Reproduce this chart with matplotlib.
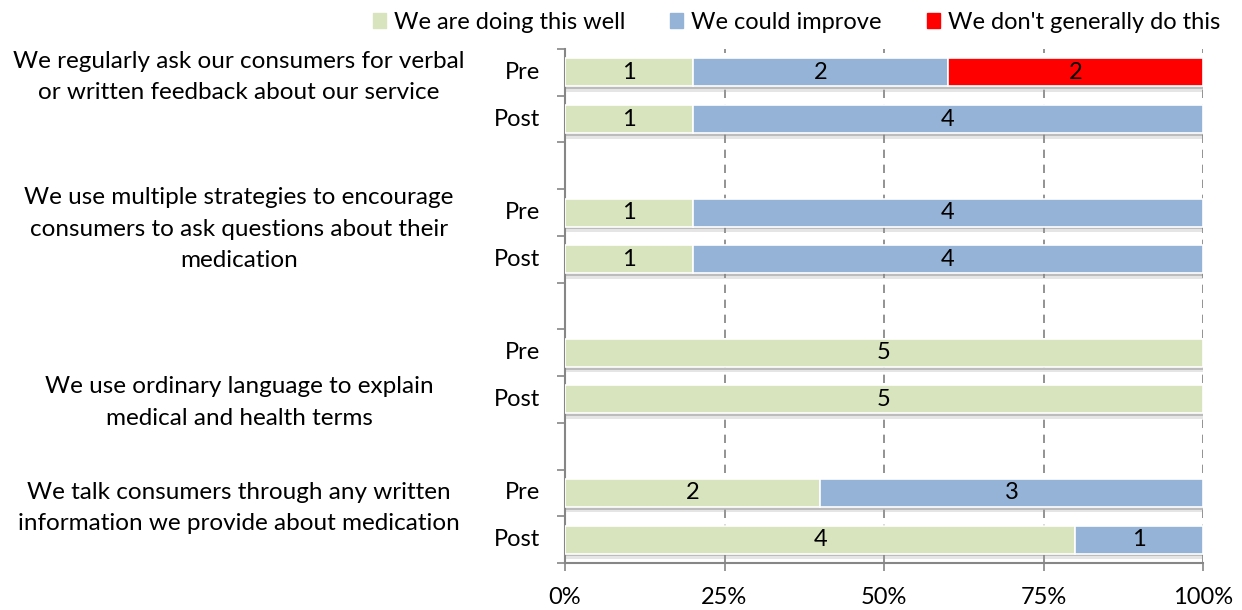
import matplotlib

matplotlib.use("Agg")
import matplotlib.pyplot as plt
import matplotlib.patheffects as pe
import numpy as np

plt.rcParams["font.family"] = ["Lato", "DejaVu Sans"]

statements = [
    "We regularly ask our consumers for verbal\nor written feedback about our service",
    "We use multiple strategies to encourage\nconsumers to ask questions about their\nmedication",
    "We use ordinary language to explain\nmedical and health terms",
    "We talk consumers through any written\ninformation we provide about medication",
]
phases = ["Pre", "Post"]
series = ["We are doing this well", "We could improve", "We don't generally do this"]
colors = ["#D7E4BD", "#95B3D7", "#FF0000"]

# counts per statement, rows = Pre, Post
doing_well = [[1, 1], [1, 1], [5, 5], [2, 4]]
could_improve = [[2, 4], [4, 4], [0, 0], [3, 1]]
dont_do = [[2, 0], [0, 0], [0, 0], [0, 0]]

counts = np.array([doing_well, could_improve, dont_do], dtype=float)  # series x stmt x phase
totals = counts.sum(axis=0)

# vertical nudge of each statement label, in rows below its "Pre" bar
label_shift = [0.1, 0.36, 1.06, 0.32]

FS = 17

fig = plt.figure(figsize=(12.42, 6.10), dpi=100)
ax = fig.add_axes([565 / 1242, 1 - 563 / 610, (1203 - 565) / 1242, (563 - 49) / 610])

n_rows = 3 * len(statements) - 1
bar_h = 0.6
shadow = [
    pe.SimplePatchShadow(offset=(1, -4), shadow_rgbFace="#9a9a9a", alpha=0.25),
    pe.SimplePatchShadow(offset=(1, -2), shadow_rgbFace="#7f7f7f", alpha=0.4),
    pe.Normal(),
]

for si, stmt in enumerate(statements):
    for pi, phase in enumerate(phases):
        y = n_rows - 1 - (3 * si + pi)
        left = 0.0
        for k in range(len(series)):
            val = counts[k, si, pi]
            if val == 0:
                continue
            width = val / totals[si, pi] * 100
            bar = ax.barh(y, width, left=left, height=bar_h, color=colors[k],
                          edgecolor="white", linewidth=1.2, zorder=3)
            for p in bar:
                p.set_path_effects(shadow)
            ax.text(left + width / 2, y, f"{int(val)}", ha="center", va="center",
                    fontsize=FS, color="black", zorder=4)
            left += width
        ax.text(-0.039, y, phase, transform=ax.get_yaxis_transform(), ha="right",
                va="center", fontsize=FS)
    y_lab = n_rows - 1 - (3 * si + label_shift[si])
    ax.text(-0.511, y_lab, stmt, transform=ax.get_yaxis_transform(), ha="center",
            va="center", fontsize=17.5, linespacing=1.62)

ax.set_xlim(0, 100)
ax.set_ylim(-0.5, n_rows - 0.5)
ax.set_xticks([0, 25, 50, 75, 100])
ax.set_xticklabels(["0%", "25%", "50%", "75%", "100%"], fontsize=FS)
ax.set_yticks(np.arange(-0.5, n_rows, 1.0))
ax.set_yticklabels([])
ax.tick_params(axis="y", length=6, width=1.2, color="#868686", direction="out")
ax.tick_params(axis="x", length=6, width=1.2, color="#868686", direction="out", pad=11)

for x in [25, 50, 75, 100]:
    ax.axvline(x, color="#808080", linestyle=(0, (5, 4)), linewidth=1.2, zorder=1)

for side in ["top", "right"]:
    ax.spines[side].set_visible(False)
for side in ["left", "bottom"]:
    ax.spines[side].set_color("#868686")
    ax.spines[side].set_linewidth(1.5)

handles = [plt.Rectangle((0, 0), 1, 1, color=c) for c in colors]
fig.legend(handles, series, loc="upper right", bbox_to_anchor=(1232 / 1242, 1.0),
           ncol=3, frameon=False, fontsize=FS, handlelength=0.55, handleheight=0.55,
           handletextpad=0.35, columnspacing=1.9, borderaxespad=0.1)

fig.savefig("out.png", dpi=100)
